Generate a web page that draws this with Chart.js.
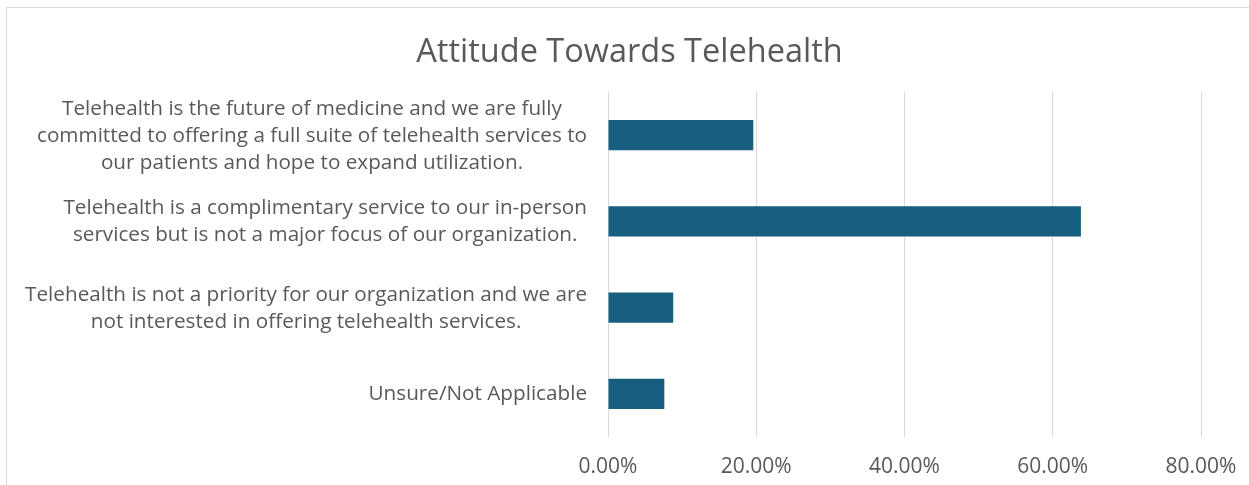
<!DOCTYPE html>
<html>
<head>
<meta charset="utf-8">
<script src="https://cdn.jsdelivr.net/npm/chart.js"></script>
<style>
  html, body { margin: 0; padding: 0; background: #fff; }
  #wrap { position: relative; width: 1249px; height: 485px; overflow: hidden; }
  #frame { position: absolute; left: 6px; top: 7px; width: 1260px; height: 500px; border-top: 1px solid #d9d9d9; border-left: 1px solid #d9d9d9; box-sizing: border-box; }
  canvas { position: absolute; left: 0; top: 0; }
</style>
</head>
<body>
<div id="wrap">
  <div id="frame"></div>
  <canvas id="c" width="1249" height="485"></canvas>
</div>
<script>
const titleText = "Attitude Towards Telehealth";
const categories = [
  ["Telehealth is the future of medicine and we are fully", "committed to offering a full suite of telehealth services to", "our patients and hope to expand utilization."],
  ["Telehealth is a complimentary service to our in-person", "services but is not a major focus of our organization."],
  ["Telehealth is not a priority for our organization and we are", "not interested in offering telehealth services."],
  ["Unsure/Not Applicable"]
];
const values = [19.6, 63.8, 8.8, 7.6];
const xTicks = [0, 20, 40, 60, 80];

const FONT = "'Open Sans', 'Noto Sans', sans-serif";
const GRAY = "#595959";
const LABEL_SIZE = 20.7;
const LABEL_LINE = 27;
const LABEL_GAP = 21;

// Category labels: each label block is right-aligned to the axis, lines centred within the block
const categoryLabelPlugin = {
  id: 'categoryLabels',
  afterDraw(chart) {
    const yScale = chart.scales.y;
    const ctx = chart.ctx;
    ctx.save();
    ctx.font = LABEL_SIZE + 'px ' + FONT;
    ctx.fillStyle = GRAY;
    ctx.textAlign = 'center';
    ctx.textBaseline = 'middle';
    const rightEdge = yScale.right - LABEL_GAP;
    categories.forEach((lines, i) => {
      const widest = Math.max(...lines.map(l => ctx.measureText(l).width));
      const cx = rightEdge - widest / 2;
      const cy = yScale.getPixelForValue(i) + 0.5;
      lines.forEach((l, j) => {
        ctx.fillText(l, cx, cy + (j - (lines.length - 1) / 2) * LABEL_LINE);
      });
    });
    ctx.restore();
  }
};

new Chart(document.getElementById('c'), {
  type: 'bar',
  data: {
    labels: categories,
    datasets: [{
      data: values,
      backgroundColor: '#185e80',
      borderWidth: 0,
      barPercentage: 0.7,
      categoryPercentage: 0.5
    }]
  },
  plugins: [categoryLabelPlugin],
  options: {
    indexAxis: 'y',
    responsive: false,
    animation: false,
    devicePixelRatio: 1,
    layout: { padding: { left: 58, right: 48, top: 0, bottom: 0 } },
    plugins: {
      legend: { display: false },
      tooltip: { enabled: false },
      title: {
        display: true,
        text: titleText,
        color: GRAY,
        font: { family: FONT, size: 32.5, weight: 'normal', lineHeight: 1.2 },
        padding: { top: 33, bottom: 20 }
      }
    },
    scales: {
      x: {
        min: 0, max: 80,
        afterBuildTicks: (scale) => { scale.ticks = xTicks.map(v => ({ value: v })); },
        afterFit: (scale) => { scale.height = 48; scale.paddingRight = 0; scale.paddingLeft = 0; },
        grid: { color: '#d9d9d9', lineWidth: 1, drawTicks: false },
        border: { display: false },
        ticks: {
          color: GRAY,
          padding: 17,
          font: { family: FONT, size: 21, lineHeight: 1.2 },
          callback: (v) => Number(v).toFixed(2) + '%'
        }
      },
      y: {
        afterFit: (scale) => { scale.width = 550; scale.paddingTop = 0; scale.paddingBottom = 0; },
        grid: { display: false, drawTicks: false },
        border: { display: false },
        ticks: { display: false }
      }
    }
  }
});
</script>
</body>
</html>
